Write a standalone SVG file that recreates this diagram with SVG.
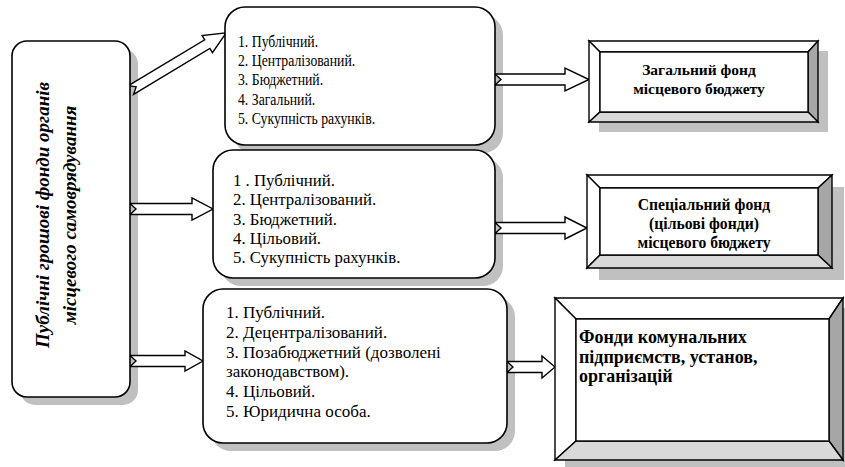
<svg xmlns="http://www.w3.org/2000/svg" width="845" height="467" viewBox="0 0 845 467">
<style>
.sh{fill:#c0c0c0}
.box{fill:#fff;stroke:#000;stroke-width:1.6}
.arr{fill:#fff;stroke:#000;stroke-width:1.4;stroke-linejoin:miter}
.bv{stroke:#000;stroke-width:1.4;stroke-linejoin:miter}
.t{font-family:"Liberation Serif","Times New Roman",serif;fill:#000}
.tb{font-family:"Liberation Serif","Times New Roman",serif;font-weight:bold;fill:#000}
</style>
<rect width="845" height="467" fill="#fff"/>
<g id="shadows">
<rect class="sh" x="20" y="49" width="118" height="356" rx="15"/>
<rect class="sh" x="233" y="15" width="270" height="138" rx="20"/>
<rect class="sh" x="221" y="158" width="282" height="128" rx="20"/>
<rect class="sh" x="211" y="297" width="304" height="154" rx="20"/>
<rect class="sh" x="599" y="51" width="229" height="81"/>
<rect class="sh" x="599" y="187" width="245" height="93"/>
<rect class="sh" x="565" y="308" width="288" height="162"/>
</g>
<g id="connectors">
<polygon class="arr" transform="translate(131,90) rotate(-31)" points="0,-5 89,-5 89,-10 111,0 89,10 89,5 0,5 6,0"/>
<polygon class="arr" points="130,203.5 192,203.5 192,198 213,209 192,220 192,214.5 130,214.5 136,209"/>
<polygon class="arr" points="130,355.5 185,355.5 185,351 203,361 185,371 185,366.5 130,366.5 136,361"/>
<polygon class="arr" points="495,74 565,74 565,68 589,79.5 565,91 565,85 495,85 501,79.5"/>
<polygon class="arr" points="495,222.5 565,222.5 565,217 587,228 565,239 565,233.5 495,233.5 501,228"/>
<polygon class="arr" points="507,361.5 542,361.5 542,356 555,367 542,378 542,372.5 507,372.5 513,367"/>
</g>
<g id="main">
<rect class="box" x="12" y="41" width="118" height="356" rx="15"/>
<text class="tb" font-style="italic" font-size="19" text-anchor="middle" transform="translate(49,215) rotate(-90)">Публічні грошові фонди органів</text>
<text class="tb" font-style="italic" font-size="19" text-anchor="middle" transform="translate(76,215) rotate(-90)">місцевого самоврядування</text>
</g>
<g id="box1">
<rect class="box" x="225" y="7" width="270" height="138" rx="20"/>
<g transform="translate(238,0) scale(0.86,1)">
<text class="t" font-size="16" x="0" y="47">1. Публічний.</text>
<text class="t" font-size="16" x="0" y="66.3">2. Централізований.</text>
<text class="t" font-size="16" x="0" y="85.5">3. Бюджетний.</text>
<text class="t" font-size="16" x="0" y="104.8">4. Загальний.</text>
<text class="t" font-size="16" x="0" y="124">5. Сукупність рахунків.</text>
</g>
</g>
<g id="box2">
<rect class="box" x="213" y="150" width="282" height="128" rx="20"/>
<text class="t" font-size="16.8" x="233" y="186">1 . Публічний.</text>
<text class="t" font-size="16.8" x="233" y="205.3">2. Централізований.</text>
<text class="t" font-size="16.8" x="233" y="224.5">3. Бюджетний.</text>
<text class="t" font-size="16.8" x="233" y="243.8">4. Цільовий.</text>
<text class="t" font-size="16.8" x="233" y="263">5. Сукупність рахунків.</text>
</g>
<g id="box3">
<rect class="box" x="203" y="289" width="304" height="154" rx="20"/>
<text class="t" font-size="17" x="226" y="318">1. Публічний.</text>
<text class="t" font-size="17" x="226" y="338">2. Децентралізований.</text>
<text class="t" font-size="17" x="226" y="358">3. Позабюджетний (дозволені</text>
<text class="t" font-size="17" x="226" y="377">законодавством).</text>
<text class="t" font-size="17" x="226" y="397">4. Цільовий.</text>
<text class="t" font-size="17" x="226" y="417">5. Юридична особа.</text>
</g>
<g id="fund1">
<polygon class="bv" fill="#fff" points="589,41 818,41 808,52 600,52"/>
<polygon class="bv" fill="#fff" points="589,41 600,52 600,112 589,122"/>
<polygon class="bv" fill="#a6a6a6" points="818,41 818,122 808,112 808,52"/>
<polygon class="bv" fill="#d9d9d9" points="589,122 600,112 808,112 818,122"/>
<rect class="bv" fill="#fff" x="600" y="52" width="208" height="60"/>
<text class="tb" font-size="15.5" x="699" y="75" text-anchor="middle">Загальний фонд</text>
<text class="tb" font-size="15.5" x="699" y="94" text-anchor="middle">місцевого бюджету</text>
</g>
<g id="fund2">
<polygon class="bv" fill="#fff" points="587,175 832,175 818,188 600,188"/>
<polygon class="bv" fill="#fff" points="587,175 600,188 600,255 587,268"/>
<polygon class="bv" fill="#a6a6a6" points="832,175 832,268 818,255 818,188"/>
<polygon class="bv" fill="#d9d9d9" points="587,268 600,255 818,255 832,268"/>
<rect class="bv" fill="#fff" x="600" y="188" width="218" height="67"/>
<text class="tb" font-size="15.7" x="704" y="210" text-anchor="middle">Спеціальний фонд</text>
<text class="tb" font-size="15.7" x="704" y="229" text-anchor="middle">(цільові фонди)</text>
<text class="tb" font-size="15.7" x="704" y="248" text-anchor="middle">місцевого бюджету</text>
</g>
<g id="fund3">
<polygon class="bv" fill="#fff" points="555,298 843,298 829,319 576,319"/>
<polygon class="bv" fill="#fff" points="555,298 576,319 576,441 555,460"/>
<polygon class="bv" fill="#a6a6a6" points="843,298 843,460 829,441 829,319"/>
<polygon class="bv" fill="#d9d9d9" points="555,460 576,441 829,441 843,460"/>
<rect class="bv" fill="#fff" x="576" y="319" width="253" height="122"/>
<text class="tb" font-size="18" x="579" y="343">Фонди комунальних</text>
<text class="tb" font-size="18" x="579" y="363">підприємств, установ,</text>
<text class="tb" font-size="18" x="579" y="382">організацій</text>
</g>
</svg>
